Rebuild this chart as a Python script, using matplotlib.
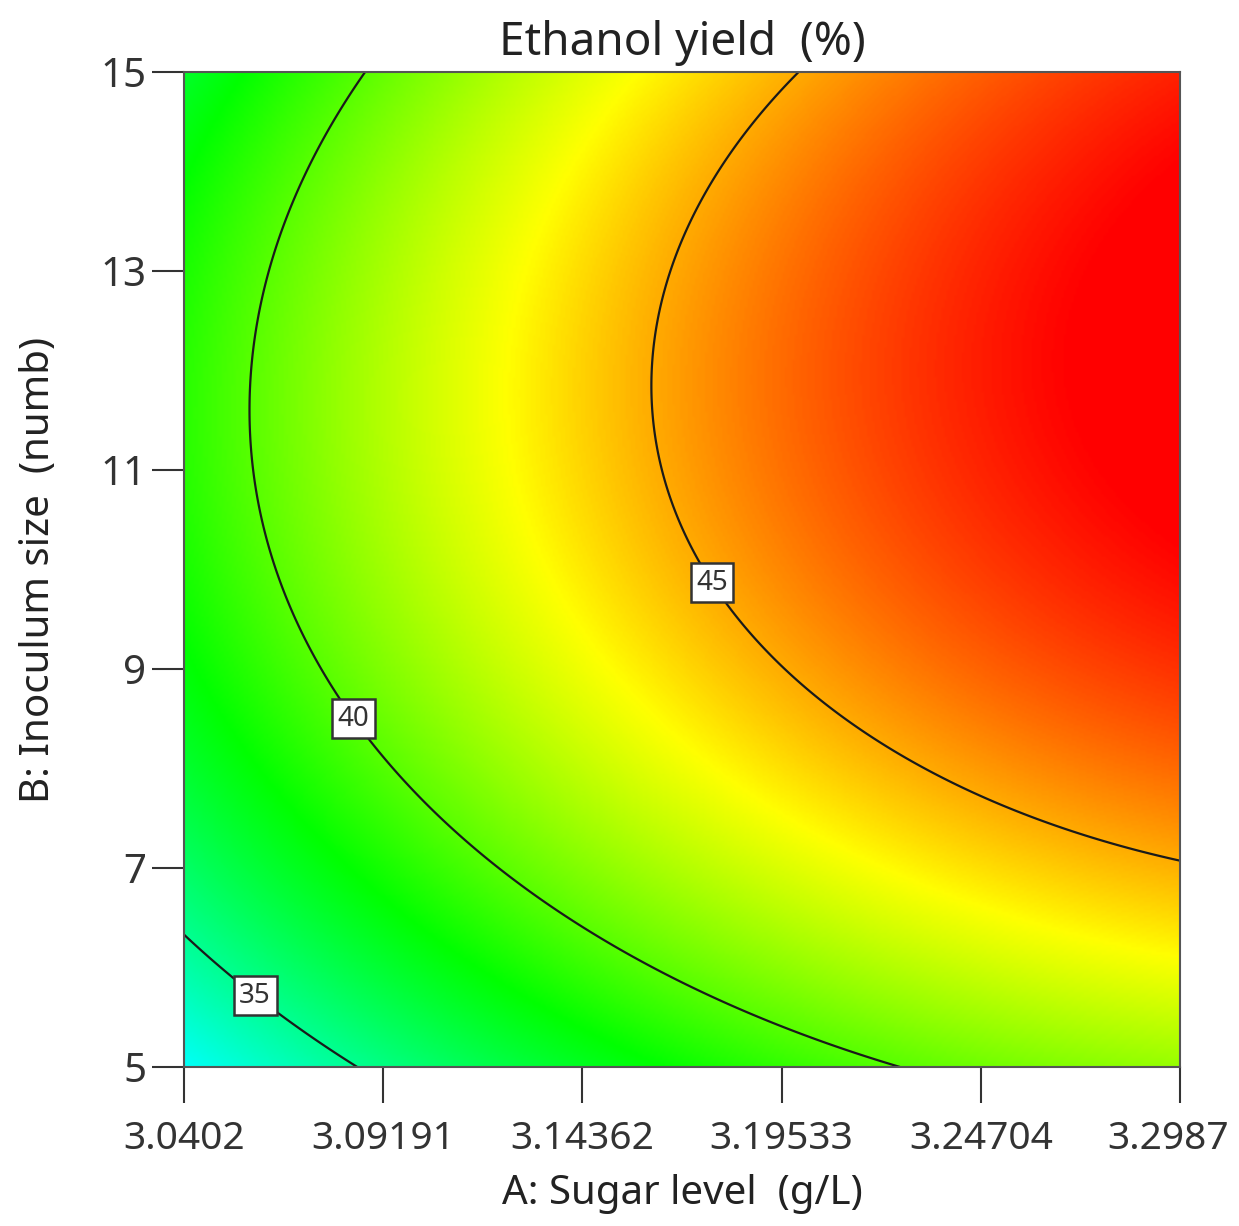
import numpy as np
import matplotlib.pyplot as plt
from matplotlib.colors import LinearSegmentedColormap
from matplotlib.transforms import ScaledTranslation

plt.rcParams['font.family'] = ['Noto Sans', 'DejaVu Sans']

# axis ticks
sugar_ticks = [3.0402, 3.09191, 3.14362, 3.19533, 3.24704, 3.2987]
sugar_labels = ['3.0402', '3.09191', '3.14362', '3.19533', '3.24704', '3.2987']
inoc_ticks = [5, 7, 9, 11, 13, 15]

# points: (sugar, inoculum) per level
c35_sugar = [3.0402, 3.0604, 3.0833]
c35_inoc = [6.266, 5.804, 5.0]
c40_sugar = [3.0877, 3.0568, 3.0607, 3.0630, 3.0859, 3.0996, 3.1256, 3.1430, 3.1689, 3.1866, 3.2276]
c40_inoc = [15.0, 11.573, 10.296, 10.095, 8.548, 7.704, 6.839, 6.427, 5.874, 5.523, 5.0]
c45_sugar = [3.1977, 3.1827, 3.1609, 3.1739, 3.1791, 3.2053, 3.2286, 3.2520, 3.2753, 3.2987]
c45_inoc = [15.0, 14.116, 11.935, 10.095, 9.915, 8.668, 8.085, 7.603, 7.291, 7.101]

levels = [35, 40, 45]
label_pos = [(3.0604, 5.804), (3.0859, 8.548), (3.1791, 9.915)]

# fit a quadratic response surface in coded units to the read points
s_lo, s_hi = sugar_ticks[0], sugar_ticks[-1]
i_lo, i_hi = inoc_ticks[0], inoc_ticks[-1]


def coded(s, i):
    a = (np.asarray(s) - (s_lo + s_hi) / 2) / ((s_hi - s_lo) / 2)
    b = (np.asarray(i) - (i_lo + i_hi) / 2) / ((i_hi - i_lo) / 2)
    return a, b


def terms(a, b):
    return np.column_stack([np.ones_like(a), a, b, a * b, a ** 2, b ** 2])


pts_s = np.array(c35_sugar + c40_sugar + c45_sugar)
pts_i = np.array(c35_inoc + c40_inoc + c45_inoc)
pts_y = np.array([35] * len(c35_sugar) + [40] * len(c40_sugar) + [45] * len(c45_sugar), dtype=float)
a, b = coded(pts_s, pts_i)
coef, *_ = np.linalg.lstsq(terms(a, b), pts_y, rcond=None)

sg = np.linspace(s_lo, s_hi, 400)
ig = np.linspace(i_lo, i_hi, 400)
S, I = np.meshgrid(sg, ig)
A, B = coded(S, I)
Z = (terms(A.ravel(), B.ravel()) @ coef).reshape(S.shape)

cmap = LinearSegmentedColormap.from_list(
    'de', [(0.0, '#00ffff'), (0.36, '#00ff00'), (0.69, '#ffff00'), (1.0, '#ff0000')])

fig = plt.figure(figsize=(12.39, 12.26), dpi=100)
ax = fig.add_axes([0.1485, 0.1297, 0.8039, 0.8116])
ax.imshow(Z, extent=[s_lo, s_hi, i_lo, i_hi], origin='lower', aspect='auto',
          cmap=cmap, vmin=32.5, vmax=48.3, interpolation='bilinear')
cs = ax.contour(S, I, Z, levels=levels, colors='#1a1a1a', linewidths=1.6)
txts = ax.clabel(cs, fmt='%d', manual=label_pos, inline=False, fontsize=20)
for t in txts:
    t.set_rotation(0)
    t.set_color('#333333')
    t.set_bbox(dict(boxstyle='square,pad=0.2', fc='white', ec='#333333', lw=1.8))
    t.set_zorder(5)

ax.set_xlim(s_lo, s_hi)
ax.set_ylim(i_lo, i_hi)
ax.set_xticks(sugar_ticks)
ax.set_xticklabels(sugar_labels)
ax.set_yticks(inoc_ticks)
ax.tick_params(axis='x', direction='out', length=26, width=1.5, labelsize=28, pad=12, colors='#333333')
ax.tick_params(axis='y', direction='out', length=23, width=1.5, labelsize=29, pad=4, colors='#333333')
for sp in ax.spines.values():
    sp.set_color('#555555')
    sp.set_linewidth(1.5)

# keep the last x tick label inside the figure edge
last = ax.get_xticklabels()[-1]
last.set_transform(last.get_transform() + ScaledTranslation(-0.12, 0, fig.dpi_scale_trans))

ax.set_xlabel('A: Sugar level  (g/L)', fontsize=29, labelpad=12, color='#222222')
ax.set_ylabel('B: Inoculum size  (numb)', fontsize=29, labelpad=30, color='#222222')
ax.set_title('Ethanol yield  (%)', fontsize=33, pad=12, color='#222222')

fig.savefig('out.png', dpi=100)
